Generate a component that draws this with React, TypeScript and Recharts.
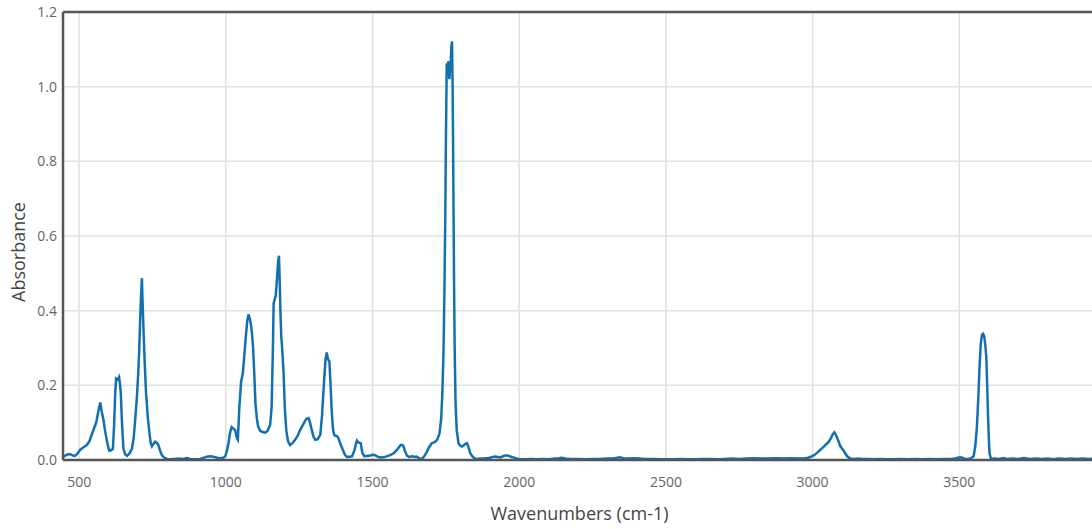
import React from "react";
import {
  LineChart,
  Line,
  XAxis,
  YAxis,
  CartesianGrid,
  ReferenceLine,
  Label,
} from "recharts";

// wavenumbers (cm-1), with matching absorbance values
const wavenumbers = [
  446, 458, 469, 478, 486, 495, 503, 515, 526, 535, 543, 551, 558, 565, 572, 577, 583, 588, 594, 599,
  603, 609, 615, 619, 623, 626, 631, 636, 639, 642, 646, 651, 657, 663, 671, 680, 686, 691, 697, 702,
  705, 708, 711, 714, 716, 719, 723, 728, 734, 740, 744, 748, 753, 759, 765, 770, 776, 782, 790, 800,
  810, 825, 840, 855, 867, 880, 895, 912, 925, 935, 947, 958, 970, 981, 991, 998, 1004, 1009, 1015, 1020,
  1026, 1032, 1038, 1041, 1046, 1052, 1058, 1063, 1068, 1073, 1077, 1082, 1086, 1089, 1093, 1097, 1101, 1106, 1110, 1117,
  1125, 1134, 1142, 1151, 1156, 1160, 1163, 1166, 1170, 1174, 1178, 1181, 1184, 1186, 1189, 1192, 1197, 1201, 1206, 1212,
  1219, 1227, 1236, 1245, 1253, 1260, 1267, 1274, 1282, 1287, 1293, 1299, 1305, 1313, 1322, 1328, 1335, 1340, 1344, 1348,
  1353, 1357, 1361, 1365, 1369, 1373, 1379, 1384, 1391, 1399, 1406, 1413, 1422, 1430, 1438, 1444, 1447, 1452, 1456, 1460,
  1465, 1472, 1482, 1492, 1500, 1509, 1520, 1532, 1545, 1560, 1572, 1583, 1590, 1596, 1601, 1605, 1610, 1617, 1625, 1635,
  1645, 1651, 1660, 1668, 1676, 1685, 1693, 1702, 1712, 1720, 1728, 1734, 1738, 1742, 1745, 1748, 1750, 1752, 1753, 1756,
  1759, 1761, 1762, 1765, 1767, 1769, 1771, 1773, 1774, 1776, 1778, 1780, 1783, 1787, 1793, 1799, 1805, 1812, 1818, 1822,
  1827, 1833, 1840, 1848, 1856, 1866, 1878, 1890, 1900, 1910, 1918, 1926, 1935, 1945, 1952, 1958, 1965, 1974, 1981, 1990,
  2003, 2020, 2040, 2060, 2080, 2100, 2120, 2135, 2145, 2158, 2175, 2200, 2225, 2250, 2275, 2300, 2320, 2335, 2344, 2355,
  2370, 2390, 2410, 2430, 2455, 2480, 2500, 2525, 2550, 2575, 2600, 2625, 2650, 2675, 2700, 2725, 2750, 2775, 2800, 2825,
  2850, 2875, 2900, 2925, 2950, 2970, 2985, 2995, 3005, 3015, 3026, 3040, 3055, 3062, 3068, 3074, 3079, 3084, 3089, 3094,
  3100, 3106, 3111, 3118, 3128, 3140, 3155, 3170, 3190, 3210, 3230, 3250, 3275, 3300, 3325, 3350, 3375, 3400, 3425, 3450,
  3470, 3485, 3495, 3503, 3510, 3520, 3530, 3540, 3549, 3555, 3560, 3565, 3569, 3573, 3577, 3581, 3585, 3589, 3592, 3595,
  3598, 3601, 3603, 3607, 3611, 3620, 3635, 3650, 3665, 3680, 3700, 3720, 3740, 3760, 3780, 3800, 3820, 3840, 3860, 3880,
  3900, 3920, 3940, 3960, 3980, 4000,
];

const absorbance = [
  0.009, 0.014, 0.016, 0.012, 0.011, 0.018, 0.027, 0.034, 0.04, 0.05, 0.068, 0.085, 0.1, 0.128, 0.154, 0.13, 0.107, 0.08, 0.054, 0.035,
  0.025, 0.026, 0.03, 0.09, 0.18, 0.218, 0.215, 0.222, 0.205, 0.18, 0.1, 0.03, 0.015, 0.011, 0.017, 0.03, 0.06, 0.107, 0.17, 0.241,
  0.3, 0.375, 0.44, 0.487, 0.43, 0.357, 0.27, 0.18, 0.115, 0.07, 0.045, 0.037, 0.043, 0.049, 0.046, 0.04, 0.025, 0.013, 0.006, 0.003,
  0.002, 0.003, 0.004, 0.003, 0.005, 0.003, 0.002, 0.003, 0.006, 0.009, 0.01, 0.009, 0.006, 0.005, 0.006, 0.01, 0.025, 0.045, 0.075, 0.088,
  0.084, 0.08, 0.058, 0.054, 0.14, 0.21, 0.232, 0.28, 0.33, 0.372, 0.39, 0.378, 0.36, 0.34, 0.3, 0.23, 0.15, 0.11, 0.09, 0.078,
  0.075, 0.073, 0.078, 0.094, 0.14, 0.28, 0.42, 0.428, 0.44, 0.48, 0.53, 0.547, 0.47, 0.4, 0.33, 0.3, 0.23, 0.14, 0.08, 0.05,
  0.04, 0.045, 0.054, 0.065, 0.08, 0.09, 0.1, 0.11, 0.112, 0.1, 0.08, 0.062, 0.054, 0.056, 0.068, 0.12, 0.214, 0.27, 0.288, 0.27,
  0.264, 0.2, 0.13, 0.085, 0.068, 0.065, 0.064, 0.058, 0.042, 0.027, 0.014, 0.008, 0.009, 0.01, 0.025, 0.045, 0.052, 0.047, 0.046, 0.045,
  0.02, 0.01, 0.011, 0.012, 0.014, 0.013, 0.008, 0.007, 0.009, 0.013, 0.018, 0.027, 0.034, 0.04, 0.04, 0.038, 0.025, 0.012, 0.008, 0.01,
  0.008, 0.009, 0.004, 0.003, 0.01, 0.022, 0.035, 0.045, 0.048, 0.054, 0.07, 0.11, 0.18, 0.29, 0.45, 0.65, 0.85, 0.99, 1.063, 1.05,
  1.068, 1.03, 1.02, 1.06, 1.072, 1.11, 1.121, 1.0, 0.91, 0.68, 0.465, 0.3, 0.152, 0.08, 0.045, 0.038, 0.036, 0.04, 0.044, 0.045,
  0.035, 0.018, 0.01, 0.004, 0.003, 0.004, 0.004, 0.005, 0.006, 0.008, 0.009, 0.008, 0.007, 0.01, 0.012, 0.012, 0.011, 0.008, 0.007, 0.004,
  0.002, 0.002, 0.003, 0.002, 0.003, 0.002, 0.004, 0.005, 0.006, 0.004, 0.003, 0.003, 0.002, 0.003, 0.003, 0.004, 0.004, 0.006, 0.007, 0.005,
  0.004, 0.005, 0.004, 0.003, 0.003, 0.002, 0.002, 0.002, 0.003, 0.002, 0.002, 0.003, 0.003, 0.002, 0.003, 0.004, 0.003, 0.004, 0.005, 0.004,
  0.004, 0.005, 0.004, 0.005, 0.004, 0.004, 0.006, 0.009, 0.013, 0.019, 0.027, 0.037, 0.049, 0.058, 0.068, 0.074, 0.068, 0.058, 0.049, 0.038,
  0.031, 0.025, 0.018, 0.01, 0.004, 0.003, 0.004, 0.003, 0.003, 0.002, 0.003, 0.002, 0.002, 0.003, 0.002, 0.003, 0.002, 0.003, 0.002, 0.003,
  0.003, 0.004, 0.006, 0.007, 0.006, 0.003, 0.003, 0.005, 0.01, 0.04, 0.089, 0.17, 0.25, 0.31, 0.335, 0.338, 0.331, 0.305, 0.277, 0.2,
  0.116, 0.05, 0.018, 0.006, 0.003, 0.004, 0.003, 0.005, 0.003, 0.004, 0.003, 0.005, 0.003, 0.004, 0.003, 0.004, 0.002, 0.004, 0.003, 0.004,
  0.003, 0.004, 0.003, 0.004, 0.003, 0.003,
];

const xTicks = [500, 1000, 1500, 2000, 2500, 3000, 3500];
const yTicks = [0, 0.2, 0.4, 0.6, 0.8, 1.0, 1.2];

const data = wavenumbers.map((w, i) => ({ w, a: absorbance[i] }));

const FONT = "'Open Sans', sans-serif";

export default function App() {
  return (
    <div style={{ position: "absolute", left: 0, top: 0, fontFamily: FONT }}>
      <LineChart
        width={1120}
        height={529}
        data={data}
        margin={{ top: 12, right: 14, bottom: 9, left: 0 }}
      >
        <CartesianGrid stroke="#e2e2e2" strokeWidth={1.5} />
        <XAxis
          dataKey="w"
          type="number"
          domain={[445, 4000]}
          ticks={xTicks}
          allowDataOverflow
          height={60}
          tickLine={false}
          tickSize={6}
          tickMargin={11}
          axisLine={{ stroke: "#555", strokeWidth: 2.5 }}
          tick={{ fill: "#666", fontSize: 14, fontFamily: FONT }}
        >
          <Label
            value="Wavenumbers (cm-1)"
            position="insideBottom"
            offset={0}
            dx={-5}
            style={{ fill: "#444", fontSize: 18, fontFamily: FONT }}
          />
        </XAxis>
        <YAxis
          type="number"
          domain={[0, 1.2]}
          ticks={yTicks}
          width={63}
          tickLine={false}
          tickSize={4}
          tickMargin={2}
          tickFormatter={(v: number) => v.toFixed(1)}
          axisLine={{ stroke: "#555", strokeWidth: 2.5 }}
          tick={{ fill: "#666", fontSize: 14, fontFamily: FONT }}
        >
          <Label
            content={() => (
              <text
                x={18}
                y={252}
                transform="rotate(-90, 18, 252)"
                textAnchor="middle"
                dominantBaseline="central"
                style={{ fill: "#444", fontSize: 18, fontFamily: FONT }}
              >
                Absorbance
              </text>
            )}
          />
        </YAxis>
        <ReferenceLine y={1.2} stroke="#555" strokeWidth={2.5} ifOverflow="visible" />
        <Line
          type="linear"
          dataKey="a"
          stroke="#1270b0"
          strokeWidth={2.5}
          dot={false}
          isAnimationActive={false}
        />
      </LineChart>
    </div>
  );
}
